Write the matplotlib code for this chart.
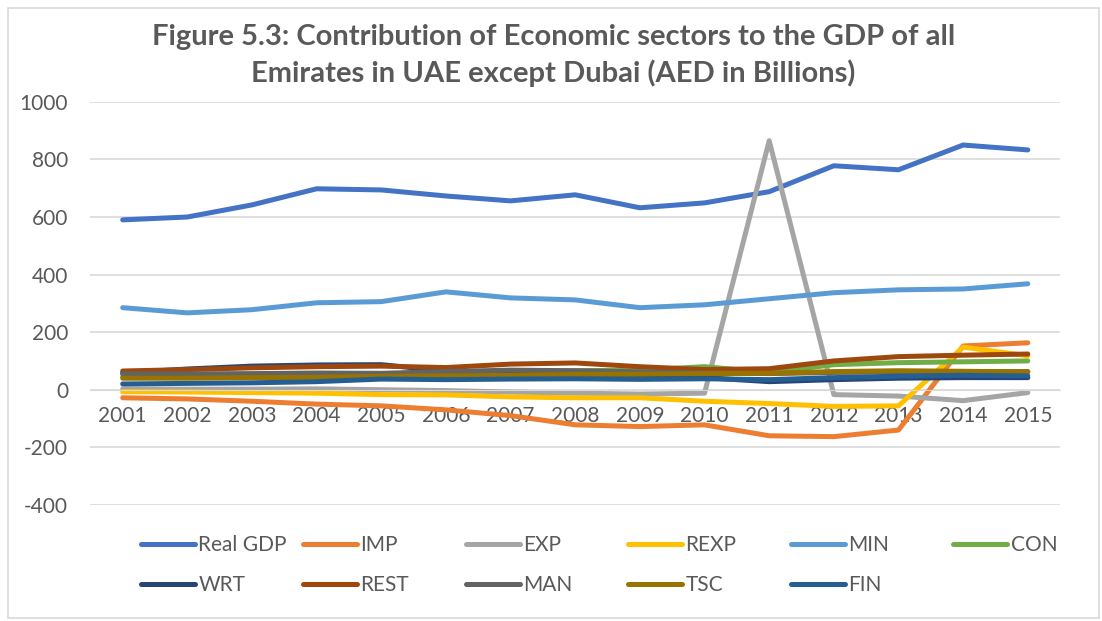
import matplotlib.pyplot as plt
from matplotlib.lines import Line2D
from matplotlib.patches import Rectangle

plt.rcParams['font.family'] = ['Lato', 'DejaVu Sans']
plt.rcParams['axes.unicode_minus'] = False

years = [str(y) for y in range(2001, 2016)]

# values (AED billions)
real_gdp = [590, 600, 642, 698, 694, 673, 656, 677, 632, 649, 688, 778, 764, 850, 833]
imp = [-28, -32, -40, -50, -56, -70, -90, -122, -128, -122, -160, -163, -140, 152, 163]
exp_ = [3, 2, 2, 3, 0, -3, -8, -12, -15, -12, 865, -17, -22, -38, -10]
rexp = [-7, -8, -10, -12, -17, -18, -25, -28, -28, -40, -48, -58, -56, 148, 118]
mining = [285, 267, 278, 302, 306, 340, 319, 312, 285, 295, 316, 337, 347, 350, 368]
con = [45, 47, 50, 52, 55, 58, 62, 66, 68, 80, 60, 87, 94, 97, 100]
wrt = [58, 72, 82, 86, 87, 65, 55, 50, 45, 42, 28, 35, 40, 42, 42]
rest = [65, 70, 76, 80, 82, 77, 89, 93, 80, 70, 73, 100, 115, 120, 124]
man = [55, 55, 56, 58, 57, 63, 68, 66, 62, 58, 56, 60, 62, 62, 63]
tsc = [40, 40, 42, 43, 47, 48, 50, 53, 54, 56, 57, 63, 66, 64, 62]
fin = [20, 22, 24, 28, 37, 35, 37, 38, 36, 38, 35, 42, 47, 50, 48]

series = [
    ("Real GDP", real_gdp, "#4472C4"),
    ("IMP", imp, "#ED7D31"),
    ("EXP", exp_, "#A5A5A5"),
    ("REXP", rexp, "#FFC000"),
    ("MIN", mining, "#5B9BD5"),
    ("CON", con, "#70AD47"),
    ("WRT", wrt, "#264478"),
    ("REST", rest, "#9E480E"),
    ("MAN", man, "#636363"),
    ("TSC", tsc, "#997300"),
    ("FIN", fin, "#255E91"),
]

fig = plt.figure(figsize=(11.02, 6.21), dpi=100)
ax = fig.add_axes([0.082, 0.187, 0.88, 0.649])

x = list(range(len(years)))
for name, vals, col in series:
    ax.plot(x, vals, color=col, lw=3.6, solid_capstyle='round', solid_joinstyle='round')

ax.set_xlim(-0.5, len(years) - 0.5)
ax.set_ylim(-400, 1000)
ax.set_yticks(range(-400, 1001, 200))
ax.grid(axis='y', color='#D9D9D9', lw=1.2)
ax.set_axisbelow(True)
for s in ['top', 'right', 'left']:
    ax.spines[s].set_visible(False)
ax.spines['bottom'].set_position(('data', 0))
ax.spines['bottom'].set_color('#D9D9D9')
ax.set_xticks(x)
ax.set_xticklabels(years)
ax.tick_params(axis='x', length=0, pad=12, labelsize=15, labelcolor='#595959')
ax.tick_params(axis='y', length=0, pad=16, labelsize=15, labelcolor='#595959')

fig.text(0.502, 0.94, "Figure 5.3: Contribution of Economic sectors to the GDP of all",
         ha='center', va='center', fontsize=21, fontweight='bold', color='#595959')
fig.text(0.502, 0.882, "Emirates in UAE except Dubai (AED in Billions)",
         ha='center', va='center', fontsize=21, fontweight='bold', color='#595959')

# legend entries laid out on an even grid like the Excel legend
col_x = [0.128, 0.275, 0.423, 0.570, 0.718, 0.865]
row_y = [0.122, 0.058]
for i, (name, vals, col) in enumerate(series):
    r, c = divmod(i, 6)
    h = Line2D([], [], color=col, lw=3.6, solid_capstyle='round')
    leg = fig.legend([h], [name], loc='center left', bbox_to_anchor=(col_x[c], row_y[r]),
                     frameon=False, handlelength=2.6, handletextpad=0.15,
                     borderaxespad=0, borderpad=0, fontsize=15, labelcolor='#595959')

fig.patches.append(Rectangle((0.007, 0.005), 0.99, 0.982, transform=fig.transFigure,
                             fill=False, edgecolor='#D9D9D9', lw=1.2))

fig.savefig("out.png", dpi=100)
